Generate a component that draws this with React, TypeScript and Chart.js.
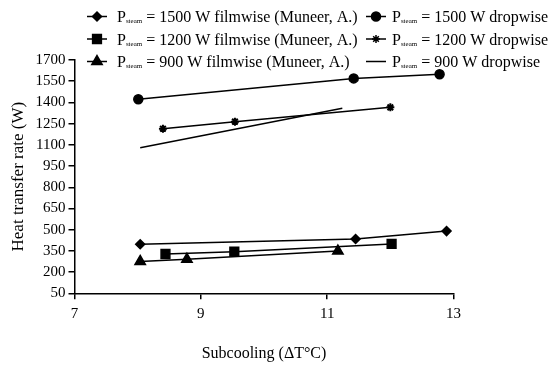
import React, { useEffect, useRef } from 'react';
import { Chart, registerables } from 'chart.js';
import { drawPoint } from 'chart.js/helpers';

Chart.register(...registerables);

const FONT = "'Liberation Serif', 'Times New Roman', serif";

const seriesLabels = [
  '1500 W filmwise (Muneer, A.)',
  '1200 W filmwise (Muneer, A.)',
  '900 W filmwise (Muneer, A.)',
  '1500 W dropwise',
  '1200 W dropwise',
  '900 W dropwise',
];

const film1500X = [8.04, 11.45, 12.89];
const film1500Y = [397, 434, 490];
const film1200X = [8.44, 9.53, 12.02];
const film1200Y = [328, 344, 399];
const film900X = [8.04, 8.78, 11.17];
const film900Y = [275, 290, 349];
const drop1500X = [8.01, 11.42, 12.78];
const drop1500Y = [1422, 1570, 1599];
const drop1200X = [8.4, 9.54, 12.0];
const drop1200Y = [1214, 1264, 1365];
const drop900X = [8.04, 11.24];
const drop900Y = [1080, 1358];

const xTicks = [7, 9, 11, 13];
const yTicks = [50, 200, 350, 500, 650, 800, 950, 1100, 1250, 1400, 1550, 1700];

const xs = [film1500X, film1200X, film900X, drop1500X, drop1200X, drop900X];
const ys = [film1500Y, film1200Y, film900Y, drop1500Y, drop1200Y, drop900Y];
const markers: any[] = ['rectRot', 'rect', 'triangle', 'circle', 'star', false];
const radii = [4.5, 6.2, 6, 4.5, 4, 0];
const markerBorders = [1.5, 1.5, 1.5, 1.5, 2, 1.5];

const legendPlugin = {
  id: 'customLegend',
  afterDraw(chart: any) {
    const ctx = chart.ctx as CanvasRenderingContext2D;
    ctx.save();
    const rows = [16.5, 39, 61.5];
    const cols = [
      { x0: 87, x1: 107, tx: 117 },
      { x0: 366, x1: 386, tx: 392 },
    ];
    chart.data.datasets.forEach((ds: any, i: number) => {
      const col = cols[Math.floor(i / 3)];
      const y = rows[i % 3];
      ctx.strokeStyle = '#000';
      ctx.fillStyle = '#000';
      ctx.lineWidth = 1.5;
      ctx.beginPath();
      ctx.moveTo(col.x0, y);
      ctx.lineTo(col.x1, y);
      ctx.stroke();
      if (ds.pointStyle) {
        drawPoint(
          ctx,
          { pointStyle: ds.pointStyle, radius: ds.pointRadius, borderWidth: ds.pointBorderWidth, rotation: 0 } as any,
          (col.x0 + col.x1) / 2,
          y
        );
      }
      ctx.textBaseline = 'alphabetic';
      ctx.textAlign = 'left';
      const base = y + 5.5;
      ctx.font = `16px ${FONT}`;
      ctx.fillText('P', col.tx, base);
      let x = col.tx + ctx.measureText('P').width;
      ctx.font = `7px ${FONT}`;
      ctx.fillText('steam', x, base + 1);
      x += ctx.measureText('steam').width;
      ctx.font = `16px ${FONT}`;
      ctx.fillText(' = ' + seriesLabels[i], x, base);
    });
    ctx.restore();
  },
};

export default function App() {
  const ref = useRef<HTMLCanvasElement>(null);
  useEffect(() => {
    if (!ref.current) return;
    const datasets = seriesLabels.map((label, i) => ({
      label,
      data: xs[i].map((x, j) => ({ x, y: ys[i][j] })),
      borderColor: '#000',
      backgroundColor: '#000',
      borderWidth: 1.5,
      pointStyle: markers[i],
      pointRadius: radii[i],
      pointBorderWidth: markerBorders[i],
      pointBackgroundColor: '#000',
      pointBorderColor: '#000',
      showLine: true,
      tension: 0,
    }));
    const chart = new Chart(ref.current, {
      type: 'scatter',
      data: { datasets },
      plugins: [legendPlugin],
      options: {
        animation: false,
        responsive: false,
        devicePixelRatio: 1,
        layout: { padding: { top: 60, right: 102.5, left: 0, bottom: 0 } },
        plugins: { legend: { display: false }, tooltip: { enabled: false } },
        scales: {
          x: {
            type: 'linear',
            min: 7,
            max: 13,
            afterBuildTicks: (s: any) => { s.ticks = xTicks.map((v) => ({ value: v })); },
            afterFit: (s: any) => { s.height = 72.7; },
            grid: { display: true, drawOnChartArea: false, drawTicks: true, tickLength: 6, color: '#000', lineWidth: 1.5 },
            border: { display: true, color: '#000', width: 1.5 },
            ticks: { color: '#000', font: { family: FONT, size: 15 }, padding: 6, maxRotation: 0, callback: (v: any) => String(v) },
            title: { display: true, text: 'Subcooling (ΔT°C)', color: '#000', font: { family: FONT, size: 16 }, padding: { top: 0, bottom: 3 } },
          },
          y: {
            type: 'linear',
            min: 50,
            max: 1700,
            afterBuildTicks: (s: any) => { s.ticks = yTicks.map((v) => ({ value: v })); },
            afterFit: (s: any) => { s.width = 74.5; },
            grid: { display: true, drawOnChartArea: false, drawTicks: true, tickLength: 6, color: '#000', lineWidth: 1.5 },
            border: { display: true, color: '#000', width: 1.5 },
            ticks: { color: '#000', font: { family: FONT, size: 15 }, padding: 3, callback: (v: any) => String(v) },
            title: { display: true, text: 'Heat transfer rate (W)', color: '#000', font: { family: FONT, size: 17 }, padding: { top: 8, bottom: 0 } },
          },
        },
      } as any,
    });
    return () => chart.destroy();
  }, []);
  return (
    <div style={{ position: 'fixed', left: 0, top: 0, width: 556, height: 366, background: '#fff' }}>
      <canvas ref={ref} width={556} height={366} style={{ display: 'block', width: 556, height: 366 }} />
    </div>
  );
}
